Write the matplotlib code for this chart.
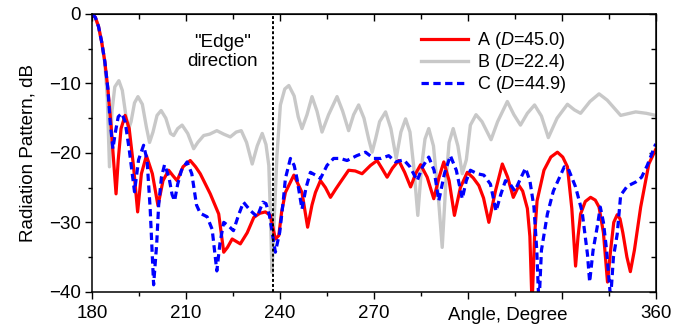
import matplotlib
matplotlib.use('Agg')
import matplotlib.pyplot as plt
from matplotlib.ticker import MultipleLocator

plt.rcParams['font.family'] = ['Liberation Sans', 'DejaVu Sans']
plt.rcParams['mathtext.fontset'] = 'custom'
plt.rcParams['mathtext.rm'] = 'Liberation Sans'
plt.rcParams['mathtext.it'] = 'Liberation Sans:italic'

# Series A (red, solid)
ang_a = [180, 181, 182, 183, 184, 185, 186, 186.8, 187.6, 188.3, 189.2, 190.5, 191.8, 193.2, 194.5,
         195.7, 197.3, 199.2, 201.0, 202.6, 204.4, 205.8, 207.1, 209, 211.3, 213, 214.5, 217.7, 220.4,
         222.0, 223.2, 224.7, 227.3, 229.5, 231.6, 233.5, 235.3, 236.9, 238.5, 239.6, 240.5, 241.7,
         244.4, 247.0, 248.8, 250.2, 251.3, 252.9, 254.5, 256.1, 257.8, 259.3, 261.9, 264, 266.2,
         268.9, 271.0, 272.5, 274.2, 275.9, 277.9, 279.8, 281.7, 283.3, 284.9, 287, 289.1, 290.8,
         292.3, 294, 295.7, 297.6, 299.8, 301.7, 303.5, 305, 306.7, 308.8, 311.0, 312.7, 314.5,
         316.3, 317.5, 319.0, 319.8, 320.5, 321.3, 322.1, 324.3, 326.5, 328.6, 330.3, 331.8, 333.2,
         334.4, 335.2, 336.0, 337.5, 339.2, 340.7, 341.9, 343.3, 344.6, 345.6, 346.6, 347.7, 348.6,
         349.5, 350.8, 351.9, 353.2, 355.2, 357.8, 360]
val_a = [0, -0.5, -1.8, -4.0, -6.8, -10.8, -16.0, -21.0, -25.9, -21, -16.5, -14.6, -16.5, -22, -28.5,
         -23, -20.4, -23, -27.6, -24, -22.5, -23.3, -24.0, -22, -21.1, -22, -23.0, -25.9, -28.8,
         -34.3, -33.6, -32.4, -33.1, -31.5, -29.3, -28.7, -28.5, -29.0, -32.4, -31.9, -28.5, -25.7,
         -23.2, -25.7, -30.7, -27.5, -25.7, -24.0, -25, -26.4, -25.2, -24.2, -22.5, -22.6, -23.0,
         -21.8, -21.1, -22.2, -23.5, -22.2, -21.1, -22.8, -24.9, -23, -21.7, -23.5, -26.6, -23.5,
         -21.3, -24, -29.0, -25, -22.8, -23.6, -24.7, -26.5, -30.0, -25.5, -21.6, -23.5, -26.4,
         -24.7, -25.5, -28.0, -32, -42, -32, -26.9, -22.5, -20.6, -19.9, -20.6, -22.0, -28,
         -36.3, -32, -28.8, -27, -26.4, -26.8, -27.8, -31.5, -38.6, -34, -30, -28.9, -29.5,
         -31.5, -35, -37.1, -34, -27.8, -21.6, -19.5]

# Series B (grey, solid)
ang_b = [180, 181, 182, 183, 184, 184.8, 185.5, 186.3, 187.2, 188.5, 189.6, 190.7, 191.6, 192.4,
         193.5, 194.6, 196.0, 197.3, 198.3, 199.4, 200.7, 202.0, 203.5, 205.0, 206.0, 207.3, 208.7,
         210.5, 212.4, 213.7, 215.6, 217.5, 219.8, 222.0, 224.1, 226, 227.6, 229.3, 231.1, 232.7,
         234.3, 235.5, 236.4, 237.0, 237.4, 238.0, 239.0, 240.1, 241.5, 242.8, 244.5, 245.8, 247.0,
         248.6, 250.2, 251.8, 253.4, 255.5, 258.2, 260.0, 261.9, 263.5, 265.1, 266.8, 268.3, 269.4,
         270.5, 271.8, 273.7, 275.4, 277.1, 278.6, 280.1, 281.5, 282.7, 284.0, 285.2, 286.3, 287.5,
         289, 290.5, 291.8, 293, 294.0, 295.3, 296.8, 298.2, 299.5, 300.8, 302.6, 304.5, 307.4,
         309.5, 312.6, 314.7, 316.8, 319.0, 321.3, 323.5, 325.7, 328.5, 331.8, 334.0, 336.0, 339.0,
         341.9, 344.5, 348.8, 353.6, 357, 360]
val_b = [0, -0.5, -1.8, -4.0, -7.0, -12, -22.0, -14, -10.5, -9.6, -11, -14.5, -16.6, -15.5,
         -12.8, -11.9, -13, -16.3, -18.5, -17.0, -14.6, -13.9, -15, -17.2, -17.5, -16.5, -16.0,
         -17.2, -19.4, -18.5, -17.5, -17.3, -16.8, -17.3, -17.7, -17.0, -16.8, -18.5, -21.6, -19.0,
         -17.2, -18.8, -21.8, -30, -37.2, -31, -20.4, -13.1, -10.8, -10.3, -11.8, -14.8, -16.5,
         -14.5, -11.9, -14, -17.0, -14.5, -11.9, -14, -16.8, -14.5, -13.1, -15, -18, -19.9,
         -18, -15.5, -14.1, -16.5, -20.8, -17, -15.1, -17, -22, -29.0, -22, -18, -16.5,
         -19, -26, -33.6, -24, -18.5, -16.5, -19, -23, -21, -16.0, -14.5, -15.5, -18.1,
         -15.5, -12.6, -14.5, -16.0, -14.3, -13.1, -14.7, -17.8, -15.0, -13.0, -13.8, -14.3, -12.6,
         -11.5, -12.4, -14.6, -14.1, -14.3, -14.6]

# Series C (blue, dashed)
ang_c = [180, 181, 182, 183, 184, 185, 185.7, 186.6, 187.4, 188.3, 189.4, 190.5, 191.8, 193.5, 194.8,
         196.4, 197.5, 198.5, 199.6, 200.6, 201.2, 202.1, 203.1, 204.5, 205.5, 206.3, 207.3, 208.5,
         210.3, 211.8, 213.3, 214.5, 216.7, 218.3, 219.8, 220.8, 222.0, 223.5, 225.1, 226.7, 228.3,
         230.5, 232.7, 234.5, 235.5, 236.6, 237.5, 238.5, 239.9, 241.0, 241.7, 243.3, 244.5, 245.4,
         247.0, 248.3, 249.7, 251.3, 252.9, 255, 257.1, 259.2, 261.4, 264.5, 267.3, 269.9, 272.3,
         274.7, 276.9, 279.5, 281.5, 283.8, 285.5, 287.5, 289.2, 290.7, 292.5, 294.4, 296.3, 298.2,
         299.5, 300.8, 303, 305.1, 307.2, 309.0, 310.5, 312.0, 313.5, 315.0, 316.5, 318.4, 319.8,
         321.1, 322.0, 322.7, 323.5, 325.4, 327.3, 329.1, 330.8, 332.0, 334.4, 336.5, 338.2, 338.9,
         340.0, 341.3, 342.3, 343.3, 344.3, 345.6, 346.5, 347.7, 348.8, 350.9, 353.6, 355.5, 357.3, 360]
val_c = [0, -0.5, -1.8, -4.0, -6.8, -10.8, -15.5, -19.4, -17, -14.8, -14.3, -15.5, -19.5, -25.6, -21,
         -18.9, -21, -28, -39.0, -33, -27.6, -23.5, -21.7, -23.5, -26.0, -26.9, -24.5, -22.5,
         -21.3, -23, -27.5, -28.7, -29.2, -31, -37.0, -33, -30.0, -30.5, -31.2, -29, -27.1,
         -28.3, -29.2, -27.1, -27.3, -29.0, -31.5, -34.3, -31.4, -27, -23.7, -20.8, -21.8, -23.7,
         -28.1, -25, -22.8, -23.2, -23.7, -21.8, -20.8, -20.8, -21.1, -20.4, -19.9, -20.8, -20.8,
         -20.4, -21.3, -21.0, -22.0, -24.0, -22, -20.6, -22.5, -26.9, -23, -20.4, -22.5, -26.6,
         -24, -22.5, -23.0, -23.2, -24.5, -28.4, -26, -24.0, -24.5, -25.5, -24, -22.2, -24,
         -27.8, -34, -42, -34, -28.8, -25.5, -23.7, -22.0, -22.2, -24.9, -28.5, -34.6, -38.6,
         -34, -30.7, -27.8, -30, -34, -41, -35, -31.7, -26.1, -24.8, -24.2, -23.5, -21.8, -18.7]

labels = [r'A ($\mathit{D}$=45.0)', r'B ($\mathit{D}$=22.4)', r'C ($\mathit{D}$=44.9)']
edge_angle = 237.6
x_ticks = [180, 210, 240, 270, 300, 330, 360]
x_ticklabels = ['180', '210', '240', '270', '', '', '360']
y_ticks = [0, -10, -20, -30, -40]

fig = plt.figure(figsize=(6.9, 3.3), dpi=100)
ax = fig.add_axes([0.1337, 0.1158, 0.8166, 0.8418])

lb, = ax.plot(ang_b, val_b, color='#c8c8c8', lw=2.4, solid_joinstyle='round')
la, = ax.plot(ang_a, val_a, color='#ff0000', lw=2.3, solid_joinstyle='round')
lc, = ax.plot(ang_c, val_c, color='#0000ff', lw=2.3, ls=(0, (2.3, 1.4)))
ax.axvline(edge_angle, color='k', lw=1.4, ls=(0, (1.5, 1.1)))

ax.set_xlim(180, 360)
ax.set_ylim(-40, 0)
ax.set_xticks(x_ticks)
ax.set_xticklabels(x_ticklabels)
ax.set_yticks(y_ticks)
ax.xaxis.set_minor_locator(MultipleLocator(15))
ax.yaxis.set_minor_locator(MultipleLocator(5))
ax.tick_params(which='major', direction='out', length=5, width=1, labelsize=13.5)
ax.tick_params(axis='x', which='major', pad=4.5)
ax.tick_params(axis='y', which='major', pad=3)
ax.tick_params(which='minor', direction='out', length=3, width=1)
for s in ax.spines.values():
    s.set_linewidth(1.1)

# inward ticks on top and right
top = ax.secondary_xaxis('top')
top.set_xticks(x_ticks)
top.xaxis.set_minor_locator(MultipleLocator(15))
top.tick_params(which='both', direction='in', labeltop=False)
top.tick_params(which='major', length=5, width=1)
top.tick_params(which='minor', length=3.5, width=1)
right = ax.secondary_yaxis('right')
right.set_yticks(y_ticks)
right.yaxis.set_minor_locator(MultipleLocator(5))
right.tick_params(which='both', direction='in', labelright=False)
right.tick_params(which='major', length=5, width=1)
right.tick_params(which='minor', length=3.5, width=1)

ax.set_ylabel('Radiation Pattern, dB', fontsize=13.5, labelpad=9)
ax.text(293.7, -0.084, 'Angle, Degree', transform=ax.get_xaxis_transform(),
        ha='left', va='center', fontsize=13.5)
ax.text(221.6, -5.5, '"Edge"\ndirection', ha='center', va='center', fontsize=13.5,
        linespacing=1.2)

ax.legend([la, lb, lc], labels, loc='upper left', bbox_to_anchor=(0.597, 0.935),
          bbox_transform=fig.transFigure, frameon=False, fontsize=13, borderpad=0,
          handlelength=2.6, handletextpad=0.5, labelspacing=0.05)

fig.savefig('out.png', dpi=100)
